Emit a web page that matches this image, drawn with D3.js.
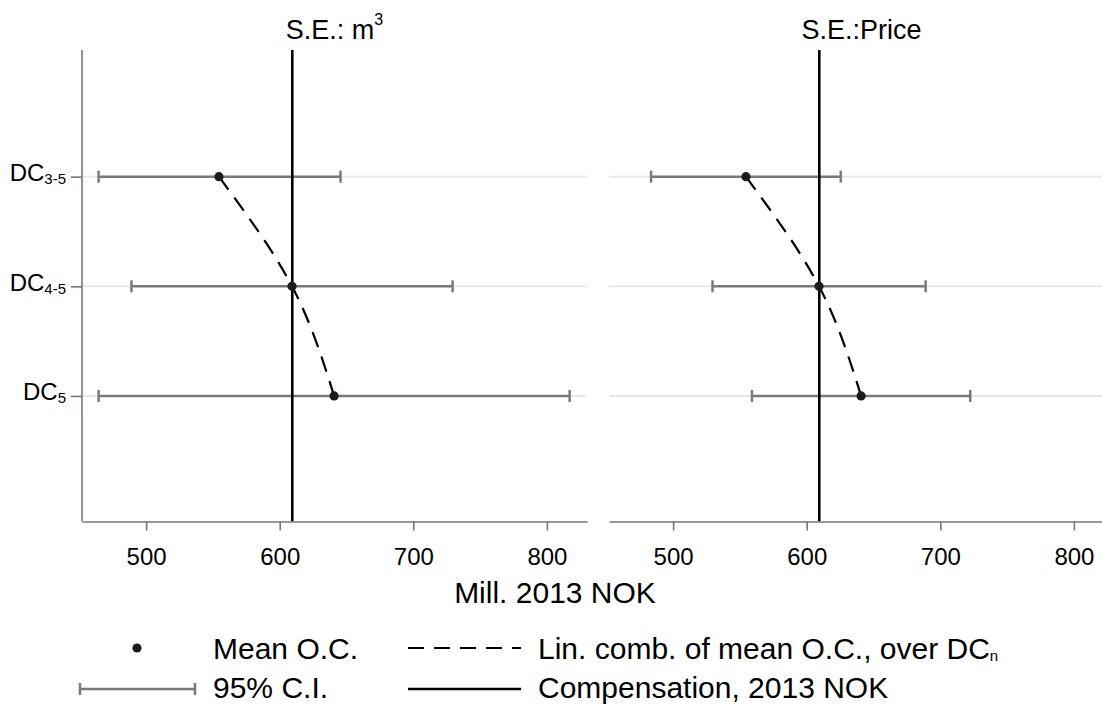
<!DOCTYPE html>
<html>
<head>
    <title>Mean O.C. by DC</title>
    <style>
        body { margin: 0; background: #fff; }
        svg text { font-family: "Liberation Sans", Arial, sans-serif; fill: #000; }
        .axis path, .axis line { stroke: #767676; stroke-width: 1.6; }
        .grid { stroke: #e8e8e8; stroke-width: 2; }
        .ci { stroke: #7a7a7a; stroke-width: 2.5; fill: none; }
        .comp { stroke: #000; stroke-width: 2.6; }
        .lincomb { stroke: #000; stroke-width: 2.2; fill: none; stroke-dasharray: 16,10; }
        .dot { fill: #1c1c1c; }
    </style>
</head>
<body>
    <div id="chart"></div>
    <script src="https://d3js.org/d3.v7.min.js"></script>
    <script>
        // data
        const categories = ["3-5", "4-5", "5"];
        const meanOC = [554.5, 609.2, 640.7];
        const ciLowM3 = [464.4, 489.0, 464.4];
        const ciHighM3 = [645.5, 729.4, 817.0];
        const ciLowPrice = [483.5, 529.5, 559.0];
        const ciHighPrice = [625.5, 689.0, 722.4];
        const compensation = 609.4;
        const xTicks = [500, 600, 700, 800];
        const xDomain = [452, 830];

        const panels = [
            { title: "S.E.: m", sup: "3", lo: ciLowM3, hi: ciHighM3, x0: 82, x1: 587, yAxis: true },
            { title: "S.E.:Price", sup: "", lo: ciLowPrice, hi: ciHighPrice, x0: 609, x1: 1114, yAxis: false }
        ];

        const W = 1102, H = 706;
        const plotTop = 50, plotBottom = 521.5;

        const svg = d3.select("#chart").append("svg")
            .attr("width", W)
            .attr("height", H);

        // categories sit at index 0..2, spaced evenly inside the plot
        const y = d3.scaleLinear()
            .domain([-1.155, 3.145])
            .range([plotTop, plotBottom]);

        panels.forEach(p => {
            const x = d3.scaleLinear().domain(xDomain).range([p.x0, p.x1]);
            const g = svg.append("g");

            // horizontal grid lines
            g.selectAll(".grid").data(categories).enter().append("line")
                .attr("class", "grid")
                .attr("x1", p.x0).attr("x2", p.x1)
                .attr("y1", (d, i) => y(i)).attr("y2", (d, i) => y(i));

            // confidence intervals
            const ci = g.selectAll(".cig").data(categories).enter().append("g");
            ci.append("line").attr("class", "ci")
                .attr("x1", (d, i) => x(p.lo[i])).attr("x2", (d, i) => x(p.hi[i]))
                .attr("y1", (d, i) => y(i)).attr("y2", (d, i) => y(i));
            ci.append("line").attr("class", "ci")
                .attr("x1", (d, i) => x(p.lo[i])).attr("x2", (d, i) => x(p.lo[i]))
                .attr("y1", (d, i) => y(i) - 6).attr("y2", (d, i) => y(i) + 6);
            ci.append("line").attr("class", "ci")
                .attr("x1", (d, i) => x(p.hi[i])).attr("x2", (d, i) => x(p.hi[i]))
                .attr("y1", (d, i) => y(i) - 6).attr("y2", (d, i) => y(i) + 6);

            // compensation
            g.append("line").attr("class", "comp")
                .attr("x1", x(compensation)).attr("x2", x(compensation))
                .attr("y1", plotTop).attr("y2", plotBottom);

            // linear combination of the means
            const line = d3.line()
                .x(d => x(d[0]))
                .y(d => y(d[1]))
                .curve(d3.curveMonotoneY);
            g.append("path").attr("class", "lincomb")
                .attr("d", line(meanOC.map((m, i) => [m, i])));

            g.selectAll(".dot").data(meanOC).enter().append("circle")
                .attr("class", "dot")
                .attr("cx", d => x(d))
                .attr("cy", (d, i) => y(i))
                .attr("r", 4.6);

            // x axis
            const xAxis = g.append("g")
                .attr("class", "axis")
                .attr("transform", "translate(0," + plotBottom + ")")
                .call(d3.axisBottom(x).tickValues(xTicks).tickSize(9).tickSizeOuter(0).tickPadding(17));
            xAxis.selectAll("text").style("font-size", "24px");

            // y axis, left panel only
            if (p.yAxis) {
                const yAxis = g.append("g")
                    .attr("class", "axis")
                    .attr("transform", "translate(" + p.x0 + ",0)")
                    .call(d3.axisLeft(y).tickValues([0, 1, 2]).tickSize(11).tickSizeOuter(0).tickPadding(5));
                yAxis.select(".domain").attr("d", "M0," + plotTop + "V" + plotBottom);
                yAxis.selectAll("text")
                    .attr("dy", "0.38em")
                    .text(null)
                    .each(function(d) {
                        const t = d3.select(this);
                        t.append("tspan").style("font-size", "24px").text("DC");
                        t.append("tspan").style("font-size", "15px").attr("dy", 3).text(categories[d]);
                    });
            }

            // panel title
            const title = svg.append("text")
                .attr("x", (p.x0 + p.x1) / 2)
                .attr("y", 39)
                .attr("text-anchor", "middle")
                .style("font-size", "27px");
            title.append("tspan").text(p.title);
            if (p.sup) title.append("tspan").attr("dy", -14).style("font-size", "16px").text(p.sup);
        });

        // axis title
        svg.append("text")
            .attr("x", 555).attr("y", 603)
            .attr("text-anchor", "middle")
            .style("font-size", "30px")
            .text("Mill. 2013 NOK");

        // legend
        const legend = svg.append("g");
        const row1 = 648, row2 = 689;
        legend.append("circle").attr("class", "dot").attr("cx", 137).attr("cy", row1).attr("r", 4.6);
        legend.append("line").attr("class", "ci").attr("x1", 80).attr("x2", 195).attr("y1", row2).attr("y2", row2);
        legend.append("line").attr("class", "ci").attr("x1", 80).attr("x2", 80).attr("y1", row2 - 6).attr("y2", row2 + 6);
        legend.append("line").attr("class", "ci").attr("x1", 195).attr("x2", 195).attr("y1", row2 - 6).attr("y2", row2 + 6);
        legend.append("line").attr("class", "lincomb").attr("x1", 408).attr("x2", 521).attr("y1", row1).attr("y2", row1);
        legend.append("line").attr("class", "comp").attr("x1", 408).attr("x2", 521).attr("y1", row2).attr("y2", row2);

        const legendText = [
            { x: 213, y: row1 + 11, text: "Mean O.C.", sub: "" },
            { x: 213, y: row2 + 9, text: "95% C.I.", sub: "" },
            { x: 538, y: row1 + 11, text: "Lin. comb. of mean O.C., over DC", sub: "n" },
            { x: 538, y: row2 + 9, text: "Compensation, 2013 NOK", sub: "" }
        ];
        legendText.forEach(l => {
            const t = legend.append("text").attr("x", l.x).attr("y", l.y).style("font-size", "30px");
            t.append("tspan").text(l.text);
            if (l.sub) t.append("tspan").attr("dy", 2).style("font-size", "15px").text(l.sub);
        });
    </script>
</body>
</html>
